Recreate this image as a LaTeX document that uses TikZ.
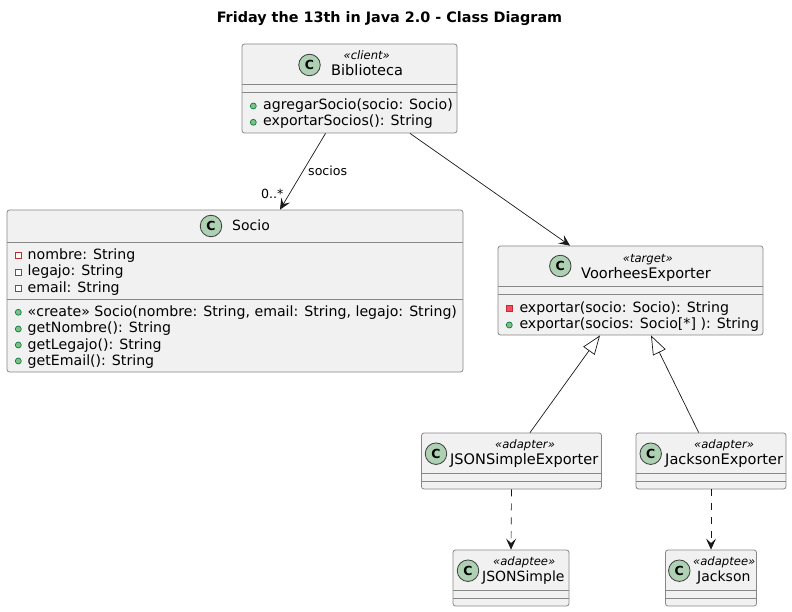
\documentclass[tikz,border=0pt]{standalone}
\usepackage{fontspec}
\setmainfont{DejaVu Sans}
\usepackage{xcolor}
\usetikzlibrary{arrows.meta,positioning,calc}
\definecolor{boxfill}{HTML}{F1F1F1}
\definecolor{linedark}{HTML}{181818}
\definecolor{spotgreen}{HTML}{ADD1B2}
\definecolor{pubfill}{HTML}{84BE84}
\definecolor{publine}{HTML}{038048}
\definecolor{privfill}{HTML}{F24D5C}
\definecolor{privline}{HTML}{C82930}

\begin{document}
\begin{tikzpicture}[
  x=1pt,y=-1pt,
  classbox/.style={draw=linedark!52,line width=0.8pt,rounded corners=2.5pt,fill=boxfill,inner sep=0pt},
  divider/.style={draw=linedark!52,line width=0.8pt},
  spot/.style={circle,draw=linedark!85,line width=0.8pt,fill=spotgreen,minimum size=21.5pt,inner sep=0pt,font=\fontsize{12.5}{14}\selectfont\bfseries},
  stereo/.style={anchor=base west,inner sep=0pt,font=\fontsize{11.6}{14}\selectfont\itshape},
  classname/.style={anchor=base west,inner sep=0pt,font=\fontsize{14}{16}\selectfont},
  widename/.style={anchor=base west,inner sep=0pt,font=\fontsize{14.55}{16}\selectfont},
  member/.style={anchor=base west,inner sep=0pt,font=\fontsize{14.15}{16}\selectfont},
  linklabel/.style={anchor=base west,inner sep=0pt,font=\fontsize{12.6}{14}\selectfont},
  pubicon/.style={circle,draw=publine,line width=0.7pt,fill=pubfill,minimum size=6pt,inner sep=0pt},
  privbox/.style={rectangle,draw=privline,line width=0.9pt,fill=white,minimum size=6pt,inner sep=0pt},
  privfull/.style={rectangle,draw=privline,line width=0.9pt,fill=privfill,minimum size=6pt,inner sep=0pt},
  assoc/.style={draw=linedark,line width=0.7pt,-{Stealth[length=11pt,width=10pt,inset=4.5pt]}},
  depend/.style={draw=linedark,line width=0.7pt,dash pattern=on 7pt off 7pt,-{Stealth[length=11pt,width=10pt,inset=4.5pt]}},
  inherit/.style={draw=linedark,line width=0.7pt,-{Triangle[open,fill=white,length=19pt,width=14pt]}}
]
\useasboundingbox (0,0) rectangle (792,612);

\node[anchor=base,inner sep=0pt,font=\fontsize{14.37}{16}\selectfont\bfseries] (title) at (389.5,23) {Friday the 13th in Java 2.0 - Class Diagram};

% class boxes
\node[classbox,minimum width=215pt,minimum height=89pt] (biblioteca) at (349.5,88.5) {};
\node[classbox,minimum width=456pt,minimum height=162pt] (socio) at (235,291) {};
\node[classbox,minimum width=265pt,minimum height=89pt] (voorhees) at (630.5,290.5) {};
\node[classbox,minimum width=180pt,minimum height=56pt] (jsonexporter) at (511.5,461) {};
\node[classbox,minimum width=150pt,minimum height=56pt] (jacksonexporter) at (711,461) {};
\node[classbox,minimum width=116pt,minimum height=56pt] (jsonsimple) at (511,578) {};
\node[classbox,minimum width=91pt,minimum height=56pt] (jackson) at (711,578) {};

% compartments
\draw[divider] (242,84) -- (457,84) (242,92) -- (457,92);
\draw[divider] (7,242) -- (463,242) (7,299) -- (463,299);
\draw[divider] (498,286) -- (763,286) (498,294) -- (763,294);
\draw[divider] (421.5,473) -- (601.5,473) (421.5,481) -- (601.5,481);
\draw[divider] (636,473) -- (786,473) (636,481) -- (786,481);
\draw[divider] (453,590) -- (569,590) (453,598) -- (569,598);
\draw[divider] (665.5,590) -- (756.5,590) (665.5,598) -- (756.5,598);

% headers
\node[spot] (bibspot) at (309.5,65) {C};
\node[stereo] (bibstereo) at (343.5,59.3) {«client»};
\node[widename] (bibname) at (331,76) {Biblioteca};

\node[spot] (sociospot) at (211,226) {C};
\node[classname] (socioname) at (232,231) {Socio};

\node[spot] (voorspot) at (560.3,266) {C};
\node[stereo] (voorstereo) at (622.7,262) {«target»};
\node[widename] (voorname) at (581,278.7) {VoorheesExporter};

\node[spot] (jsonexpspot) at (436,453.7) {C};
\node[stereo] (jsonexpstereo) at (495,448.3) {«adapter»};
\node[widename] (jsonexpname) at (450,464.3) {JSONSimpleExporter};

\node[spot] (jackexpspot) at (650.7,453.7) {C};
\node[stereo] (jackexpstereo) at (694,448.3) {«adapter»};
\node[widename] (jackexpname) at (665,464.3) {JacksonExporter};

\node[spot] (jsonspot) at (468,570.7) {C};
\node[stereo] (jsonstereo) at (493,565.3) {«adaptee»};
\node[classname] (jsonname) at (482,581.3) {JSONSimple};

\node[spot] (jackspot) at (679.3,570.7) {C};
\node[stereo] (jackstereo) at (693,565.3) {«adaptee»};
\node[classname] (jackname) at (697,581.3) {Jackson};

% members
\node[pubicon] (bibicona) at (253.3,106) {};
\node[member] (bibma) at (263,110) {agregarSocio(socio: Socio)};
\node[pubicon] (bibiconb) at (253.3,122.3) {};
\node[member] (bibmb) at (263,126) {exportarSocios(): String};

\node[privbox] (socioicona) at (18.3,255.3) {};
\node[member] (socioma) at (27.5,259.3) {nombre: String};
\node[privbox] (socioiconb) at (18.3,272.3) {};
\node[member] (sociomb) at (27.5,276) {legajo: String};
\node[privbox] (socioiconc) at (18.3,288.3) {};
\node[member] (sociomc) at (27.5,292) {email: String};
\node[pubicon] (socioicond) at (18.3,312.3) {};
\node[member] (sociomd) at (27.5,316) {«create» Socio(nombre: String, email: String, legajo: String)};
\node[pubicon] (socioicone) at (18.3,329) {};
\node[member] (sociome) at (27.5,332.5) {getNombre(): String};
\node[pubicon] (socioiconf) at (18.3,345) {};
\node[member] (sociomf) at (27.5,349) {getLegajo(): String};
\node[pubicon] (socioicong) at (18.3,361) {};
\node[member] (sociomg) at (27.5,365) {getEmail(): String};

\node[privfull] (vooricona) at (509.3,308.3) {};
\node[member] (voorma) at (519.3,312.3) {exportar(socio: Socio): String};
\node[pubicon] (vooriconb) at (509.3,325) {};
\node[member] (voormb) at (519.3,328.7) {exportar(socios: Socio[*] ): String};

% connectors
\draw[assoc] ([xshift=-24pt]biblioteca.south) -- ([xshift=45pt]socio.north);
\draw[assoc] ([xshift=60.5pt]biblioteca.south) -- ([xshift=-60.5pt]voorhees.north);
\draw[inherit] ([xshift=18.5pt]jsonexporter.north) -- ([xshift=-30.5pt]voorhees.south);
\draw[inherit] ([xshift=-12.3pt]jacksonexporter.north) -- ([xshift=20.5pt]voorhees.south);
\draw[depend] (jsonexporter.south) -- (jsonsimple.north);
\draw[depend] (jacksonexporter.south) -- (jackson.north);

\node[linklabel] (sociolabel) at (308,176) {socios};
\node[linklabel] (multlabel) at (261,199) {0..*};
\end{tikzpicture}
\end{document}
